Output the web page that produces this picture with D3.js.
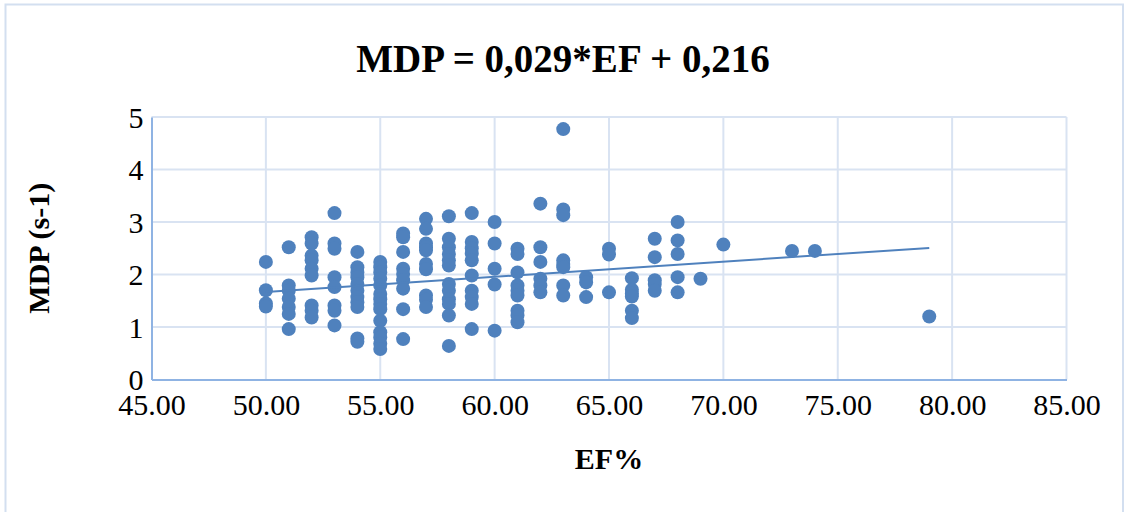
<!DOCTYPE html>
<html>
<head>
<meta charset="utf-8">
<script src="https://cdn.jsdelivr.net/npm/d3@7"></script>
<style>
  html, body { margin: 0; padding: 0; background: #ffffff; }
  svg { display: block; font-family: "Liberation Serif", "Times New Roman", serif; }
</style>
</head>
<body>
<svg id="chart" width="1126" height="512"></svg>
<script>
// EF% (x) and MDP (y) for each patient, grouped by EF value
const ef = [
  50, 50, 50, 50,
  51, 51, 51, 51, 51, 51, 51,
  52, 52, 52, 52, 52, 52, 52, 52, 52,
  53, 53, 53, 53, 53, 53, 53, 53,
  54, 54, 54, 54, 54, 54, 54, 54, 54, 54, 54,
  55, 55, 55, 55, 55, 55, 55, 55, 55, 55, 55, 55, 55, 55,
  56, 56, 56, 56, 56, 56, 56, 56, 56,
  57, 57, 57, 57, 57, 57, 57, 57, 57, 57,
  58, 58, 58, 58, 58, 58, 58, 58, 58, 58, 58, 58,
  59, 59, 59, 59, 59, 59, 59, 59, 59, 59,
  60, 60, 60, 60, 60,
  61, 61, 61, 61, 61, 61, 61, 61, 61,
  62, 62, 62, 62, 62, 62,
  63, 63, 63, 63, 63, 63, 63, 63,
  64, 64, 64,
  65, 65, 65,
  66, 66, 66, 66, 66, 66,
  67, 67, 67, 67, 67,
  68, 68, 68, 68, 68,
  69, 70, 73, 74, 79
];
const mdp = [
  2.24, 1.70, 1.45, 1.39,
  2.52, 1.79, 1.69, 1.54, 1.38, 1.25, 0.96,
  2.71, 2.59, 2.36, 2.27, 2.11, 1.98, 1.41, 1.31, 1.18,
  3.17, 2.59, 2.49, 1.95, 1.76, 1.41, 1.31, 1.03,
  2.43, 2.14, 2.04, 1.95, 1.82, 1.69, 1.57, 1.47, 1.38, 0.78, 0.72,
  2.24, 2.14, 2.04, 1.92, 1.79, 1.63, 1.53, 1.44, 1.34, 1.12, 0.90, 0.80, 0.68, 0.58,
  2.78, 2.71, 2.43, 2.11, 2.01, 1.89, 1.73, 1.34, 0.77,
  3.06, 2.87, 2.59, 2.52, 2.46, 2.20, 2.10, 1.60, 1.52, 1.38,
  3.11, 2.68, 2.52, 2.39, 2.27, 2.17, 1.82, 1.69, 1.53, 1.44, 1.22, 0.64,
  3.17, 2.62, 2.50, 2.40, 2.27, 1.98, 1.69, 1.57, 1.44, 0.96,
  3.00, 2.59, 2.11, 1.81, 0.93,
  2.49, 2.39, 2.04, 1.79, 1.69, 1.60, 1.31, 1.22, 1.09,
  3.35, 2.52, 2.24, 1.92, 1.79, 1.66,
  4.77, 3.24, 3.13, 2.27, 2.20, 2.14, 1.79, 1.60,
  1.95, 1.85, 1.57,
  2.49, 2.38, 1.66,
  1.93, 1.71, 1.64, 1.58, 1.31, 1.17,
  2.68, 2.33, 1.89, 1.82, 1.69,
  3.00, 2.65, 2.39, 1.95, 1.66,
  1.92, 2.57, 2.45, 2.45, 1.20
];

// Linear trend stated in the title: MDP = 0,029*EF + 0,216
const trendSlope = 0.029;
const trendIntercept = 0.216;

const xTicks = [45, 50, 55, 60, 65, 70, 75, 80, 85];
const yTicks = [0, 1, 2, 3, 4, 5];

const titleText = "MDP = 0,029*EF + 0,216";
const xTitle = "EF%";
const yTitle = "MDP (s-1)";

const W = 1126, H = 512;
const plot = { left: 151.5, right: 1066.5, top: 117, bottom: 379.5 };
const markColor = "#4f81bd";
const gridColor = "#d9e3f2";
const axisColor = "#8fb3e3";

const svg = d3.select("#chart");

// outer chart frame
svg.append("rect")
  .attr("x", 5.5).attr("y", 4.5)
  .attr("width", 1117.5).attr("height", 520)
  .attr("fill", "#ffffff")
  .attr("stroke", "#d3dff0").attr("stroke-width", 2);

const x = d3.scaleLinear().domain([45, 85]).range([plot.left, plot.right]);
const y = d3.scaleLinear().domain([0, 5]).range([plot.bottom, plot.top]);

// gridlines
const grid = svg.append("g");
grid.selectAll("line.v").data(xTicks.slice(1)).join("line")
  .attr("x1", d => x(d)).attr("x2", d => x(d))
  .attr("y1", plot.top).attr("y2", plot.bottom)
  .attr("stroke", gridColor).attr("stroke-width", 2);
grid.selectAll("line.h").data(yTicks.slice(1)).join("line")
  .attr("x1", plot.left).attr("x2", plot.right)
  .attr("y1", d => y(d)).attr("y2", d => y(d))
  .attr("stroke", gridColor).attr("stroke-width", 2);

// axes
const xAxis = d3.axisBottom(x).tickValues(xTicks).tickSize(0).tickPadding(0)
  .tickFormat(d3.format(".2f"));
const gx = svg.append("g").attr("transform", `translate(0,${plot.bottom})`).call(xAxis);
gx.select(".domain").attr("stroke", axisColor).attr("stroke-width", 2);
gx.selectAll("text")
  .attr("fill", "#000").attr("font-size", 30)
  .attr("font-family", "'Liberation Serif', serif")
  .attr("y", 35).attr("dy", 0);

const yAxis = d3.axisLeft(y).tickValues(yTicks).tickSize(0).tickPadding(8)
  .tickFormat(d3.format("d"));
const gy = svg.append("g").attr("transform", `translate(${plot.left},0)`).call(yAxis);
gy.select(".domain").attr("stroke", axisColor).attr("stroke-width", 2);
gy.selectAll("text")
  .attr("fill", "#000").attr("font-size", 30)
  .attr("font-family", "'Liberation Serif', serif")
  .attr("dy", "0.34em");

// data points
const pts = ef.map((e, i) => ({ ef: e, mdp: mdp[i] }));
svg.append("g").selectAll("circle").data(pts).join("circle")
  .attr("cx", d => x(d.ef))
  .attr("cy", d => y(d.mdp))
  .attr("r", 7)
  .attr("fill", markColor);

// linear trendline across the observed EF range
const [efMin, efMax] = d3.extent(ef);
const line = d3.line().x(d => x(d)).y(d => y(trendSlope * d + trendIntercept));
svg.append("path")
  .datum([efMin, efMax])
  .attr("d", line)
  .attr("fill", "none")
  .attr("stroke", markColor)
  .attr("stroke-width", 2);

// titles
svg.append("text")
  .attr("x", W / 2).attr("y", 72)
  .attr("text-anchor", "middle")
  .attr("font-size", 39).attr("font-weight", "bold")
  .text(titleText);

svg.append("text")
  .attr("x", (plot.left + plot.right) / 2).attr("y", 469)
  .attr("text-anchor", "middle")
  .attr("font-size", 30).attr("font-weight", "bold")
  .text(xTitle);

svg.append("text")
  .attr("transform", `translate(49,${(plot.top + plot.bottom) / 2}) rotate(-90)`)
  .attr("text-anchor", "middle")
  .attr("font-size", 30).attr("font-weight", "bold")
  .text(yTitle);
</script>
</body>
</html>
